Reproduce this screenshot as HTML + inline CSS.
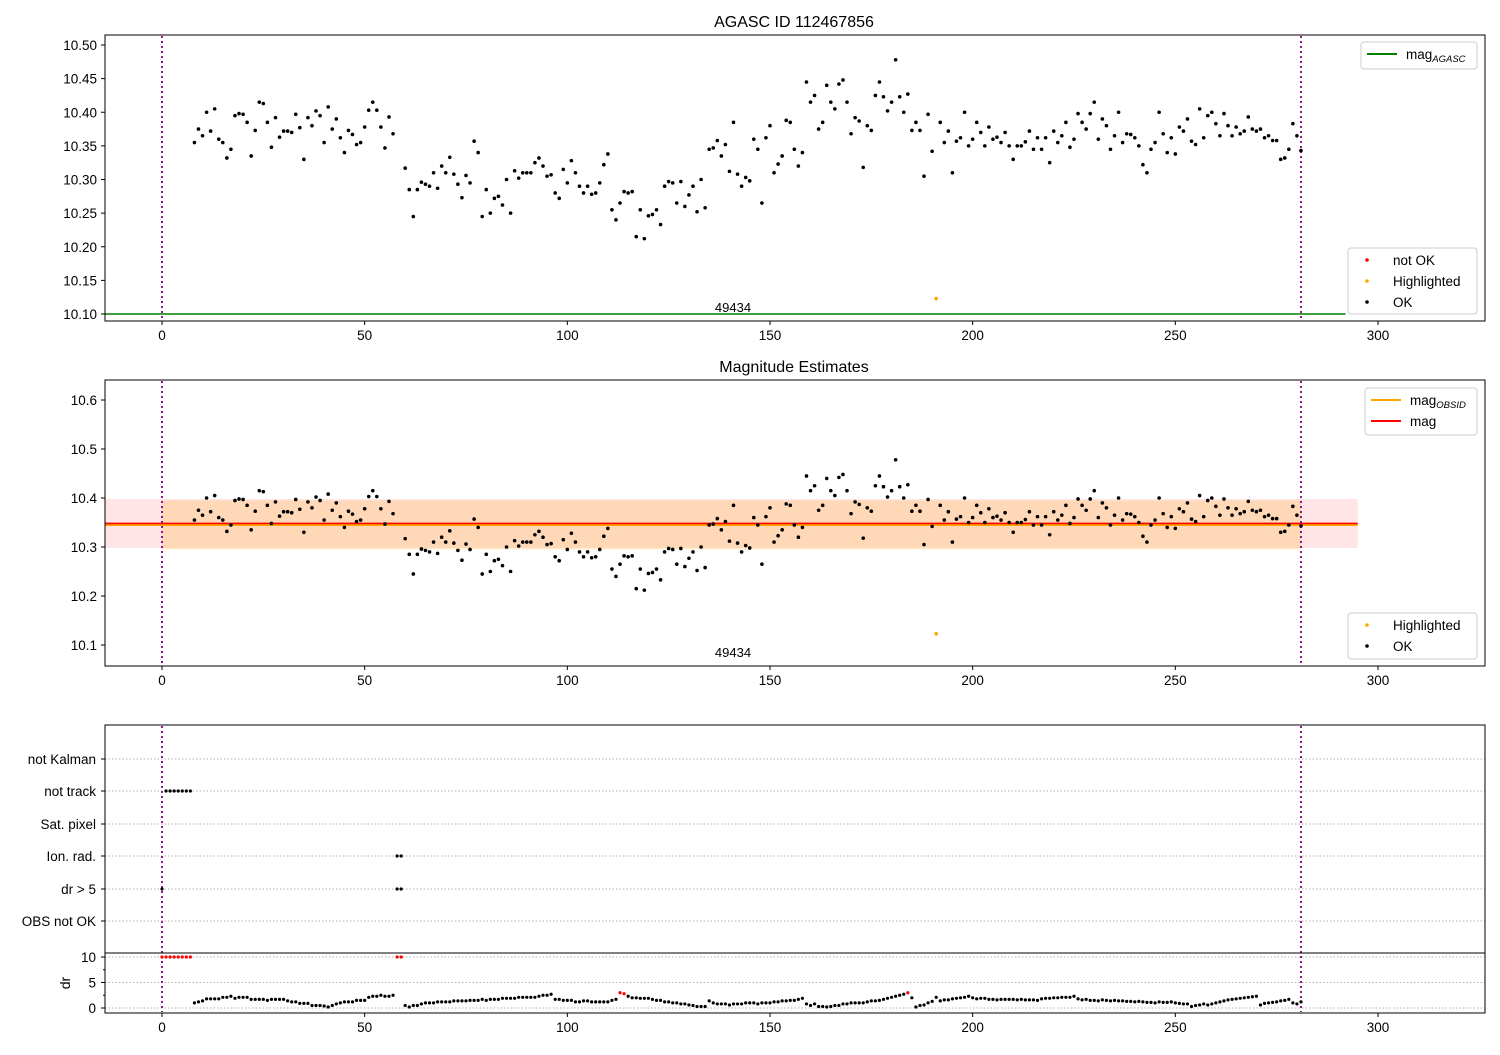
<!DOCTYPE html>
<html><head><meta charset="utf-8"><style>
body{margin:0;background:#fff}
svg text{font-family:"Liberation Sans","DejaVu Sans",sans-serif;fill:#000}
</style></head><body>
<svg id="c" width="1500" height="1050" viewBox="0 0 1500 1050" xmlns="http://www.w3.org/2000/svg"></svg>
<script>
// ---- data ----
const magStart = 8;
const magVals = [10.355,10.375,10.365,10.40,10.372,10.405,10.36,10.355,10.332,10.345,10.395,10.398,10.397,10.385,10.335,10.373,10.415,10.413,10.385,10.348,10.392,10.363,10.372,10.372,10.37,10.397,10.377,10.330,10.392,10.380,10.402,10.395,10.355,10.408,10.375,10.39,10.362,10.34,10.373,10.367,10.352,10.355,10.378,10.403,10.415,10.403,10.378,10.347,10.393,10.368,
null,null,
10.317,10.285,10.245,10.285,10.296,10.293,10.29,10.31,10.287,10.32,10.31,10.333,10.308,10.293,10.273,10.306,10.295,10.357,10.34,10.245,10.285,10.25,10.272,10.275,10.262,10.30,10.25,10.313,10.302,10.31,10.31,10.31,10.325,10.332,10.32,10.305,10.307,10.28,10.272,10.315,10.295,10.328,10.31,10.29,10.28,10.29,10.278,10.28,10.295,10.322,10.338,10.255,10.24,10.265,10.282,10.28,10.282,10.215,10.255,10.212,10.246,10.248,10.255,10.233,10.29,10.297,10.295,10.265,10.297,10.26,10.277,10.29,10.252,10.30,10.258,10.345,10.347,10.358,10.335,10.352,10.312,10.385,10.308,10.29,10.303,10.298,10.36,10.345,10.265,10.362,10.38,10.31,10.323,10.335,10.388,10.385,10.345,10.32,10.34,10.445,10.415,10.425,10.375,10.385,10.44,10.415,10.405,10.442,10.448,10.415,10.368,10.392,10.387,10.318,10.38,10.373,10.425,10.445,10.423,10.402,10.415,10.478,10.423,10.40,10.427,10.373,10.385,10.373,10.305,10.397,10.342,
null,
10.385,10.355,10.372,10.31,10.357,10.362,10.40,10.35,10.36,10.385,10.37,10.35,10.378,10.36,10.363,10.355,10.37,10.35,10.33,10.35,10.35,10.356,10.372,10.345,10.362,10.345,10.362,10.325,10.372,10.355,10.365,10.385,10.348,10.36,10.398,10.385,10.375,10.398,10.415,10.36,10.39,10.38,10.345,10.365,10.40,10.355,10.368,10.367,10.362,10.35,10.322,10.31,10.345,10.355,10.40,10.368,10.34,10.362,10.338,10.378,10.372,10.39,10.357,10.352,10.405,10.362,10.395,10.40,10.383,10.365,10.398,10.38,10.365,10.378,10.368,10.372,10.393,10.375,10.372,10.375,10.362,10.365,10.358,10.358,10.33,10.332,10.345,10.383,10.365,10.343];
const highlightX = [191];
const highlightMag = [10.123];
const drVals = [10,10,10,10,10,10,10,10,
1.0,1.2,1.4,1.8,1.8,1.8,1.8,2.1,2.1,2.3,1.9,2.1,2.1,2.1,1.7,1.7,1.7,1.7,1.5,1.7,1.7,1.7,1.7,1.4,1.2,1.2,0.9,0.9,0.9,0.5,0.5,0.5,0.4,0.2,0.5,0.8,1.0,1.2,1.2,1.2,1.5,1.5,1.5,2.1,2.3,2.3,2.5,2.3,2.3,2.5,
10,10,
0.5,0.2,0.5,0.5,0.8,1.0,1.0,1.0,1.2,1.2,1.2,
1.2,1.4,1.4,1.4,1.4,1.5,1.5,1.5,1.7,1.5,1.7,1.7,1.7,
1.9,1.9,1.9,1.9,2.1,2.1,2.1,2.1,2.1,2.3,2.5,2.5,2.7,
1.7,1.7,1.5,1.5,1.5,1.2,1.2,1.4,1.4,1.2,1.2,1.2,1.2,1.2,1.5,1.7,
3.0,2.8,
2.3,2.0,2.0,1.9,1.9,1.9,1.7,1.5,1.5,1.2,1.2,1.0,1.0,0.8,0.8,0.6,0.5,0.3,0.3,0.3,
1.4,1.0,0.8,0.8,0.8,0.6,0.8,0.8,0.8,1.0,1.0,1.0,0.8,1.0,1.0,1.0,1.2,1.2,1.4,1.4,1.5,1.5,1.7,1.9,
0.8,0.5,0.8,0.3,0.3,0.2,0.3,0.5,0.5,0.8,0.8,1.0,1.0,1.0,1.0,1.2,1.4,1.4,1.5,1.7,1.9,2.1,2.3,2.5,2.7,
3.0,
2.0,0.2,0.5,0.6,1.0,1.3,2.1,1.4,1.6,1.6,1.8,1.9,2.0,2.1,2.3,2.0,
1.8,1.9,1.9,1.7,1.7,1.6,1.7,1.7,1.7,1.7,1.6,1.7,1.6,1.6,1.6,1.5,1.8,1.9,1.9,2.0,2.0,2.1,2.1,2.1,2.3,
1.8,1.6,1.7,1.5,1.5,1.4,1.6,1.5,1.4,1.5,1.4,1.4,1.3,1.3,1.2,1.3,1.2,1.1,1.1,1.0,1.2,1.1,1.1,1.2,1.0,
0.9,0.8,0.8,0.3,0.5,0.6,0.8,0.6,0.8,1.0,1.2,1.4,1.6,1.7,1.8,1.9,2.0,2.1,2.2,2.3,
0.6,0.9,1.0,1.1,1.2,1.4,1.5,1.7,1.0,0.8,1.2];
const notOkX = [0,1,2,3,4,5,6,7,58,59,113,114,184];
const categories = ["not Kalman","not track","Sat. pixel","Ion. rad.","dr > 5","OBS not OK"];
const notTrackX = [1,2,3,4,5,6,7];
const ionRadX = [58,59];
const drGt5X = [0,58,59];
const xTicks = [0,50,100,150,200,250,300];
const p1Ticks = [10.10,10.15,10.20,10.25,10.30,10.35,10.40,10.45,10.50];
const p2Ticks = [10.1,10.2,10.3,10.4,10.5,10.6];
const drTicks = [0,5,10];
const magMean = [10.348];
const magObsid = [10.345];
const magStd = [0.05];
const agascMag = [10.10];
const obsStart = [0], obsEnd = [281];

// ---- scales ----
const X = v => 162 + v * 4.0533;
const Y1 = v => 314 - (v - 10.10) * 672.5;
const Y2 = v => 645 - (v - 10.1) * 490;
const Yd = v => 1008 - v * 5.1;
const catY = [759, 791, 824, 856, 889, 921];

const svg = document.getElementById('c');
const NS = 'http://www.w3.org/2000/svg';
function mk(tag, attrs, parent) {
  const e = document.createElementNS(NS, tag);
  for (const k in attrs) e.setAttribute(k, attrs[k]);
  (parent || svg).appendChild(e);
  return e;
}
function txt(x, y, s, opt) {
  const t = mk('text', Object.assign({x: x, y: y, 'font-size': 13.5}, opt || {}));
  t.textContent = s;
  return t;
}

function axesBox(top, bot, name) {
  const r = mk('rect', {x: 105, y: top, width: 1380, height: bot - top, fill: 'none', stroke: '#000', 'stroke-width': 1});
  
  
}
function xAxis(bot, name) {
  const g = mk('g', {});
  
  
  xTicks.forEach(v => {
    mk('line', {x1: X(v), x2: X(v), y1: bot, y2: bot + 4, stroke: '#000'}, g);
    const t = txt(X(v), bot + 19, String(v), {'text-anchor': 'middle'});
    g.appendChild(t);
  });
}
function vlines(top, bot) {
  [obsStart[0], obsEnd[0]].forEach(v => {
    const l = mk('line', {x1: X(v), x2: X(v), y1: top, y2: bot, stroke: 'purple', 'stroke-width': 1.8, 'stroke-dasharray': '2,3'});
    
    
  });
}
function dot(x, y, color, r, g) {
  return mk('circle', {cx: x, cy: y, r: r || 1.8, fill: color}, g);
}

// ===== Panel 1 =====
txt(794, 27, 'AGASC ID 112467856', {'text-anchor': 'middle', 'font-size': 16});
const gl = mk('line', {x1: 105, x2: X(292), y1: Y1(agascMag[0]), y2: Y1(agascMag[0]), stroke: 'green', 'stroke-width': 1.5});


vlines(36, 320);
const g1 = mk('g', {});


magVals.forEach((v, i) => { if (v !== null) dot(X(magStart + i), Y1(v), '#000', 1.8, g1); });
highlightX.forEach((x, i) => dot(X(x), Y1(highlightMag[i]), 'orange', 1.8, g1));
txt(733, 312, '49434', {'text-anchor': 'middle', 'font-size': 13});
axesBox(35, 321, 'panel1-axes');
p1Ticks.forEach(v => {
  mk('line', {x1: 101, x2: 105, y1: Y1(v), y2: Y1(v), stroke: '#000'});
  txt(97, Y1(v) + 5, v.toFixed(2), {'text-anchor': 'end'});
});
xAxis(321, 'panel1-x-axis');

function legend(x, y, w, h, items, name) {
  const g = mk('g', {});
  
  
  mk('rect', {x: x, y: y, width: w, height: h, rx: 3, fill: '#fff', 'fill-opacity': 0.8, stroke: '#ccc'}, g);
  items.forEach((it, i) => {
    const cy = y + 12 + i * 21;
    if (it.type === 'line') mk('line', {x1: x + 6, x2: x + 36, y1: cy, y2: cy, stroke: it.color, 'stroke-width': 2}, g);
    else mk('circle', {cx: x + 19, cy: cy, r: 1.8, fill: it.color}, g);
    const t = txt(x + 45, cy + 5, it.label, {'font-size': 13.5});
    if (it.sub) { const s = document.createElementNS(NS, 'tspan'); s.setAttribute('font-size', '9.5'); s.setAttribute('font-style', 'italic'); s.setAttribute('dy', '3'); s.textContent = it.sub; t.appendChild(s); }
    g.appendChild(t);
  });
}
legend(1361, 42, 116, 27, [{type: 'line', color: 'green', label: 'mag', sub: 'AGASC'}], 'panel1-legend-top');
legend(1348, 248, 129, 66, [{type: 'dot', color: 'red', label: 'not OK'}, {type: 'dot', color: 'orange', label: 'Highlighted'}, {type: 'dot', color: '#000', label: 'OK'}], 'panel1-legend-bottom');

// ===== Panel 2 =====
txt(794, 372, 'Magnitude Estimates', {'text-anchor': 'middle', 'font-size': 16});
const bEnd = X(295);
const band1 = mk('rect', {x: 105, y: Y2(magMean[0] + magStd[0]), width: bEnd - 105, height: Y2(magMean[0] - magStd[0]) - Y2(magMean[0] + magStd[0]), fill: 'rgba(255,0,0,0.1)'});


const band2 = mk('rect', {x: X(0), y: Y2(magObsid[0] + magStd[0]), width: X(281) - X(0), height: Y2(magObsid[0] - magStd[0]) - Y2(magObsid[0] + magStd[0]), fill: 'rgba(255,165,0,0.2)'});


const ol = mk('line', {x1: 105, x2: bEnd, y1: Y2(magObsid[0]), y2: Y2(magObsid[0]), stroke: 'orange', 'stroke-width': 2});


const rl = mk('line', {x1: 105, x2: bEnd, y1: Y2(magMean[0]), y2: Y2(magMean[0]), stroke: 'red', 'stroke-width': 1.6});


vlines(381, 665);
const g2 = mk('g', {});


magVals.forEach((v, i) => { if (v !== null) dot(X(magStart + i), Y2(v), '#000', 1.8, g2); });
highlightX.forEach((x, i) => dot(X(x), Y2(highlightMag[i]), 'orange', 1.8, g2));
txt(733, 657, '49434', {'text-anchor': 'middle', 'font-size': 13});
axesBox(380, 666, 'panel2-axes');
p2Ticks.forEach(v => {
  mk('line', {x1: 101, x2: 105, y1: Y2(v), y2: Y2(v), stroke: '#000'});
  txt(97, Y2(v) + 5, v.toFixed(1), {'text-anchor': 'end'});
});
xAxis(666, 'panel2-x-axis');
legend(1365, 388, 112, 47, [{type: 'line', color: 'orange', label: 'mag', sub: 'OBSID'}, {type: 'line', color: 'red', label: 'mag'}], 'panel2-legend-top');
legend(1348, 613, 129, 46, [{type: 'dot', color: 'orange', label: 'Highlighted'}, {type: 'dot', color: '#000', label: 'OK'}], 'panel2-legend-bottom');

// ===== Panel 3 flags =====
catY.forEach((y, i) => {
  mk('line', {x1: 105, x2: 1485, y1: y, y2: y, stroke: '#b0b0b0', 'stroke-dasharray': '1.5,2'});
  mk('line', {x1: 101, x2: 105, y1: y, y2: y, stroke: '#000'});
  txt(96, y + 5, categories[i], {'text-anchor': 'end'});
});
drTicks.forEach(v => {
  mk('line', {x1: 105, x2: 1485, y1: Yd(v), y2: Yd(v), stroke: '#b0b0b0', 'stroke-dasharray': '1.5,2'});
  mk('line', {x1: 101, x2: 105, y1: Yd(v), y2: Yd(v), stroke: '#000'});
  txt(96, Yd(v) + 5, String(v), {'text-anchor': 'end'});
});
mk('line', {x1: 103, x2: 105, y1: Yd(7.5), y2: Yd(7.5), stroke: '#000'});
mk('line', {x1: 103, x2: 105, y1: Yd(2.5), y2: Yd(2.5), stroke: '#000'});
const dl = txt(70, 983, 'dr', {'text-anchor': 'middle', transform: 'rotate(-90 70 983)', 'font-size': 14});

vlines(726, 1012);
const g3 = mk('g', {});


notTrackX.forEach(x => dot(X(x), catY[1], '#000', 1.6, g3));
ionRadX.forEach(x => dot(X(x), catY[3], '#000', 1.6, g3));
drGt5X.forEach(x => dot(X(x), catY[4], '#000', 1.6, g3));
const g4 = mk('g', {});


drVals.forEach((v, i) => {
  const bad = notOkX.indexOf(i) >= 0;
  dot(X(i), Yd(Math.min(v, 10)), bad ? 'red' : '#000', 1.6, g4);
});
axesBox(725, 1013, 'panel3-axes');
const sep = mk('line', {x1: 105, x2: 1485, y1: 953, y2: 953, stroke: '#000', 'stroke-width': 1});


xAxis(1013, 'panel3-x-axis');
</script>
</body></html>
